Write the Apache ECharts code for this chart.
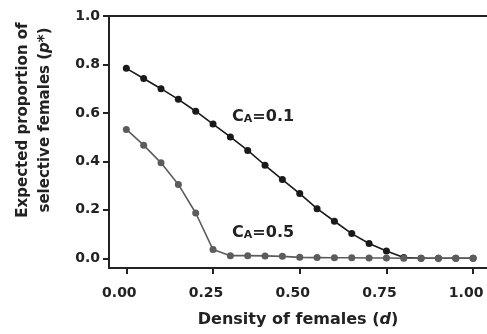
<!DOCTYPE html>
<html>
<head>
<meta charset="utf-8">
<script src="https://cdn.jsdelivr.net/npm/echarts@6/dist/echarts.min.js"></script>
<style>
  html, body { margin: 0; padding: 0; background: #fff; }
  #chart { width: 487px; height: 334px; }
</style>
</head>
<body>
<div id="chart"></div>
<script>
    var chart = echarts.init(document.getElementById('chart'));

    // density of females, 0 to 1 by 0.05
    var density = [0, 0.05, 0.1, 0.15, 0.2, 0.25, 0.3, 0.35, 0.4, 0.45, 0.5,
        0.55, 0.6, 0.65, 0.7, 0.75, 0.8, 0.85, 0.9, 0.95, 1.0];
    // C_A = 0.1
    var pLow = [0.784, 0.742, 0.700, 0.656, 0.607, 0.554, 0.501, 0.445, 0.384, 0.325, 0.267,
        0.205, 0.153, 0.102, 0.061, 0.030, 0.003, 0, 0, 0, 0];
    // C_A = 0.5
    var pHigh = [0.532, 0.467, 0.394, 0.305, 0.187, 0.036, 0.011, 0.011, 0.010, 0.008, 0.004,
        0.003, 0.002, 0.002, 0.001, 0.001, 0, 0, 0, 0, 0];
    var xTicks = [0, 0.25, 0.5, 0.75, 1.0];
    var yTicks = [0, 0.2, 0.4, 0.6, 0.8, 1.0];

    var ink = '#222';
    var font = 'DejaVu Sans';

    function pairs(ys) {
        var out = [];
        for (var i = 0; i < density.length; i++) out.push([density[i], ys[i]]);
        return out;
    }

    var tagRich = {
        m: {fontSize: 16, fontWeight: 'bold', fontFamily: font, color: ink, lineHeight: 16, verticalAlign: 'top'},
        s: {fontSize: 11, fontWeight: 'bold', fontFamily: font, color: ink, lineHeight: 11, verticalAlign: 'bottom', padding: [13, 0, 0, 0]}
    };

    function tag(x, y, txt) {
        return {
            symbol: 'circle', symbolSize: 0,
            data: [{coord: [x, y]}],
            label: {show: true, position: 'right', distance: 0, formatter: txt, rich: tagRich}
        };
    }

    var option = {
        animation: false,
        grid: {left: 109, top: 16, right: 0, bottom: 66, outerBoundsMode: 'none'},
        xAxis: [{
            type: 'value', min: -0.05, max: 1.04,
            name: 'Density of females ({i|d})',
            nameLocation: 'middle', nameGap: 44,
            nameTextStyle: {fontSize: 16, fontWeight: 'bold', fontFamily: font, color: ink,
                rich: {i: {fontSize: 16, fontWeight: 'bold', fontStyle: 'italic', fontFamily: font, color: ink}}},
            axisLine: {show: true, onZero: false, lineStyle: {color: ink, width: 2}},
            axisTick: {show: true, length: 6, lineStyle: {color: ink, width: 2}, customValues: xTicks},
            axisLabel: {fontSize: 14, fontWeight: 'bold', fontFamily: font, color: ink, margin: 18,
                padding: [0, 14, 0, 0],
                customValues: xTicks,
                formatter: function (v) { return v.toFixed(2); }},
            splitLine: {show: false}
        }, {
            type: 'value', position: 'top', min: -0.05, max: 1.04,
            axisLine: {show: true, onZero: false, lineStyle: {color: ink, width: 2}},
            axisTick: {show: false}, axisLabel: {show: false}, splitLine: {show: false}
        }],
        yAxis: {
            type: 'value', min: -0.04, max: 1.0,
            name: 'Expected proportion of\nselective females ({i|p}*)',
            nameLocation: 'middle', nameGap: 53, nameRotate: 90,
            nameTextStyle: {fontSize: 15, fontWeight: 'bold', fontFamily: font, color: ink, lineHeight: 22,
                padding: [0, 0, 0, 44],
                rich: {i: {fontSize: 15, fontWeight: 'bold', fontStyle: 'italic', fontFamily: font, color: ink, lineHeight: 22}}},
            axisLine: {show: true, onZero: false, lineStyle: {color: ink, width: 2}},
            axisTick: {show: true, length: 6, lineStyle: {color: ink, width: 2}, customValues: yTicks},
            axisLabel: {fontSize: 14, fontWeight: 'bold', fontFamily: font, color: ink, margin: 9,
                customValues: yTicks,
                formatter: function (v) { return v.toFixed(1); }},
            splitLine: {show: false}
        },
        series: [{
            name: 'C_A=0.1', type: 'line', data: pairs(pLow),
            symbol: 'circle', symbolSize: 7,
            lineStyle: {color: '#1a1a1a', width: 1.6},
            itemStyle: {color: '#1a1a1a'},
            markPoint: tag(0.305, 0.585, '{m|C}{s|A}{m|=0.1}'),
            z: 2
        }, {
            name: 'C_A=0.5', type: 'line', data: pairs(pHigh),
            symbol: 'circle', symbolSize: 7,
            lineStyle: {color: '#5c5c5c', width: 1.6},
            itemStyle: {color: '#5c5c5c'},
            markPoint: tag(0.305, 0.107, '{m|C}{s|A}{m|=0.5}'),
            z: 3
        }]
    };

    chart.setOption(option);
    window.onresize = chart.resize;
</script>
</body>
</html>
